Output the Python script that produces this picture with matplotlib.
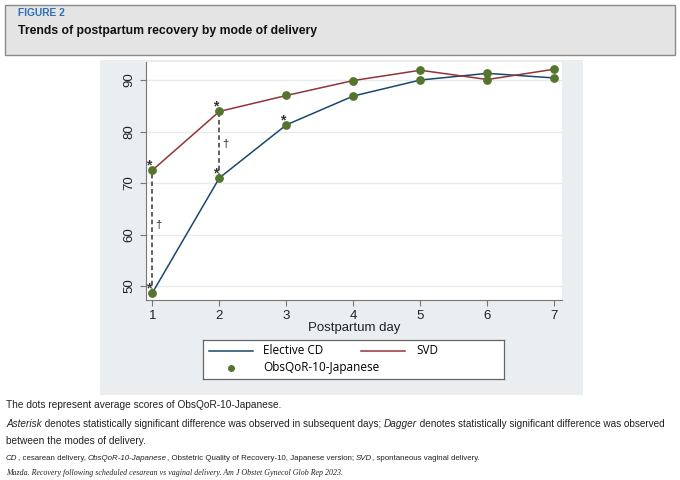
import matplotlib
matplotlib.use("Agg")
import matplotlib.pyplot as plt
from matplotlib.patches import Rectangle

days = [1, 2, 3, 4, 5, 6, 7]
elective_cd = [48.7, 71.0, 81.3, 86.9, 90.0, 91.3, 90.4]
svd = [72.5, 83.9, 87.0, 89.9, 91.9, 90.1, 92.1]

# significance marks: asterisks next to (day, score); daggers between groups on these days
asterisks = [(1, 72.5), (1, 48.7), (2, 83.9), (2, 71.0), (3, 81.3)]
dagger_days = [1, 2]
dagger_y = [61.8, 77.6]

header_label = "FIGURE 2"
header_title = "Trends of postpartum recovery by mode of delivery"
note_dots = "The dots represent average scores of ObsQoR-10-Japanese."

W, H = 680, 480
NAVY = "#1a476f"
MAROON = "#90353b"
GREEN = "#55752f"
SANS = ["Liberation Sans", "DejaVu Sans"]
plt.rcParams["font.family"] = SANS

fig = plt.figure(figsize=(6.8, 4.8), dpi=100)
fig.patch.set_facecolor("white")


def fx(px):
    return px / W


def fy(py):
    return 1 - py / H


# header box
fig.patches.append(Rectangle((fx(5), fy(55)), fx(670), 50 / H, transform=fig.transFigure,
                             facecolor="#e4e4e4", edgecolor="#8a8a8a", lw=1.0, zorder=-2))
fig.text(fx(18), fy(13), header_label, color="#2e6fb5", fontsize=7.4, fontweight="bold",
         va="center")
fig.text(fx(18), fy(31), header_title, color="#111111", fontsize=8.8, fontweight="bold",
         va="center")

# graph panel
fig.patches.append(Rectangle((fx(100), fy(395)), fx(483), 335 / H, transform=fig.transFigure,
                             facecolor="#eaeef1", edgecolor="none", zorder=-2))

ax = fig.add_axes([fx(145.7), fy(300), fx(416), (300 - 62) / H])
ax.set_facecolor("white")
ax.plot(days, elective_cd, color=NAVY, lw=1.1, zorder=3)
ax.plot(days, svd, color=MAROON, lw=1.1, zorder=3)
ax.scatter(days, elective_cd, color=GREEN, s=28, zorder=4)
ax.scatter(days, svd, color=GREEN, s=28, zorder=4)

for d, ty in zip(dagger_days, dagger_y):
    i = days.index(d)
    ax.plot([d, d], [elective_cd[i], svd[i]], color="#333333", lw=1.1, ls=(0, (3, 2)), zorder=2)
    ax.text(d + 0.04, ty, "\u2020", fontsize=8, color="#222222", ha="left", va="center")

for d, v in asterisks:
    ax.text(d - 0.06, v + 0.9, "*", fontsize=10, fontweight="bold", color="#333333",
            ha="center", va="center")

ax.set_xlim(0.9, 7.11)
ax.set_ylim(47.3, 93.5)
ax.set_xticks(days)
ax.set_yticks([50, 60, 70, 80, 90])
ax.set_yticklabels(["50", "60", "70", "80", "90"], rotation=90, va="center")
ax.tick_params(labelsize=9.5, labelcolor="#222222", color="#777777", length=4, width=0.8)
ax.grid(axis="y", color="#e6ecee", lw=1.0)
ax.set_axisbelow(True)
for s in ["top", "right"]:
    ax.spines[s].set_visible(False)
for s in ["left", "bottom"]:
    ax.spines[s].set_color("#777777")
    ax.spines[s].set_linewidth(0.8)
ax.set_xlabel("Postpartum day", fontsize=9.5, labelpad=0, color="#222222")

# legend
lg = fig.add_axes([fx(203), fy(379), fx(301), 39 / H])
lg.set_xlim(0, 301)
lg.set_ylim(39, 0)
lg.set_xticks([])
lg.set_yticks([])
lg.set_facecolor("white")
for s in lg.spines.values():
    s.set_color("#666666")
    s.set_linewidth(0.9)
LEG_FONT = ["Open Sans", "DejaVu Sans"]
lg.plot([6, 50], [11, 11], color=NAVY, lw=1.1)
lg.text(60, 11, "Elective CD", fontsize=8.5, va="center", family=LEG_FONT)
lg.plot([158, 202], [11, 11], color=MAROON, lw=1.1)
lg.text(213, 11, "SVD", fontsize=8.5, va="center", family=LEG_FONT)
lg.scatter([28], [28], color=GREEN, s=16)
lg.text(60, 28, "ObsQoR-10-Japanese", fontsize=8.5, va="center", family=LEG_FONT)

# footnotes
fig.canvas.draw()
renderer = fig.canvas.get_renderer()


def segments(x, y, parts, size, family=SANS, color="#222222"):
    for txt, style in parts:
        t = fig.text(fx(x), fy(y), txt, fontsize=size, style=style, family=family,
                     color=color, va="center")
        bb = t.get_window_extent(renderer)
        x += bb.width * W / fig.bbox.width


segments(6, 405, [(note_dots, "normal")], 7.3)
segments(6, 424, [("Asterisk", "italic"),
                  (" denotes statistically significant difference was observed in subsequent days; ", "normal"),
                  ("Dagger", "italic"),
                  (" denotes statistically significant difference was observed", "normal")], 7.2)
segments(6, 441, [("between the modes of delivery.", "normal")], 7.3)
segments(6, 458, [("CD", "italic"), (", cesarean delivery, ", "normal"),
                  ("ObsQoR-10-Japanese", "italic"),
                  (", Obstetric Quality of Recovery-10, Japanese version; ", "normal"),
                  ("SVD", "italic"), (", spontaneous vaginal delivery.", "normal")], 5.7)
segments(6, 473, [("Mazda. Recovery following scheduled cesarean vs vaginal delivery. "
                   "Am J Obstet Gynecol Glob Rep 2023.", "italic")], 5.7,
         family=["Liberation Serif", "DejaVu Serif"])

fig.savefig("out.png", dpi=100, facecolor="white")
